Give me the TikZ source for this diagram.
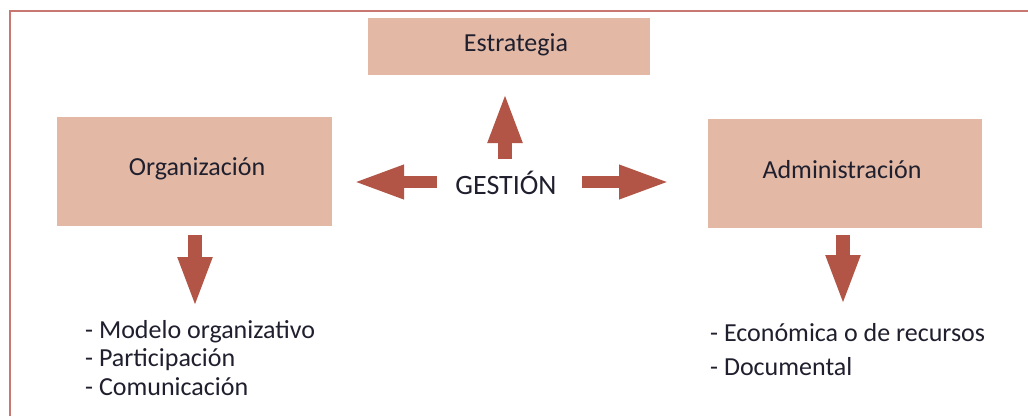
\documentclass[tikz,border=0pt]{standalone}
\usepackage{fontspec}
\setmainfont{Carlito}
\usetikzlibrary{arrows.meta}
\definecolor{boxfill}{HTML}{E3B9A6}
\definecolor{arrowcol}{HTML}{B25546}
\definecolor{framecol}{HTML}{C87870}
\definecolor{txtcol}{HTML}{1F1F2E}
\tikzset{
  box/.style={fill=boxfill, draw=none, inner sep=0pt},
  boxlabel/.style={text=txtcol, inner sep=0pt, font=\fontsize{26}{30}\selectfont},
  bigarrow/.style={draw=arrowcol, line width=#1, -{Triangle[length=51pt,width=31pt]}},
  bigarrow/.default=14pt,
  listtext/.style={text=txtcol, align=left, anchor=west, inner sep=0pt, font=\fontsize{26}{29}\selectfont}
}
\begin{document}
\begin{tikzpicture}[x=1pt,y=-1pt]
\useasboundingbox (0,0) rectangle (1028,416);
\fill[white] (0,0) rectangle (1028,416);
% frame
\draw[framecol, line width=2pt] (10,416) -- (10,11) -- (1028,11);
% boxes
\node[box, minimum width=282pt, minimum height=57pt] (estr) at (509,46.5) {};
\node[boxlabel] (estrT) at ([shift={(7,-1.5)}]estr.center) {Estrategia};
\node[box, minimum width=275pt, minimum height=109pt] (org) at (194.5,171.5) {};
\node[boxlabel] (orgT) at ([shift={(2.5,-2.5)}]org.center) {Organización};
\node[box, minimum width=274pt, minimum height=109pt] (adm) at (845,173.5) {};
\node[boxlabel] (admT) at ([shift={(-3,-3.5)}]adm.center) {Administración};
\node[text=txtcol, inner sep=0pt, font=\fontsize{28}{32}\selectfont] (gest) at (506,183) {GESTIÓN};
% arrow anchor coordinates
\coordinate (upS) at (505,159);
\coordinate (upE) at (505,92);
\coordinate (lS) at (437,182);
\coordinate (lE) at (353,182);
\coordinate (rS) at (582,182);
\coordinate (rE) at (670,182);
\coordinate (dlS) at (195,235);
\coordinate (dlE) at (195,308);
\coordinate (drS) at (843,235);
\coordinate (drE) at (843,306);
\draw[bigarrow] (upS) -- (upE);
\draw[bigarrow=12pt] (lS) -- (lE);
\draw[bigarrow=12pt] (rS) -- (rE);
\draw[bigarrow] (dlS) -- (dlE);
\draw[bigarrow] (drS) -- (drE);
% lists
\node[listtext] (l1) at (85,332) {- Modelo organizativo};
\node[listtext] (l2) at (85,359.5) {- Participación};
\node[listtext] (l3) at (85,387) {- Comunicación};
\node[listtext] (r1) at (710,333) {- Económica o de recursos};
\node[listtext] (r2) at (710,367) {- Documental};
\end{tikzpicture}
\end{document}
